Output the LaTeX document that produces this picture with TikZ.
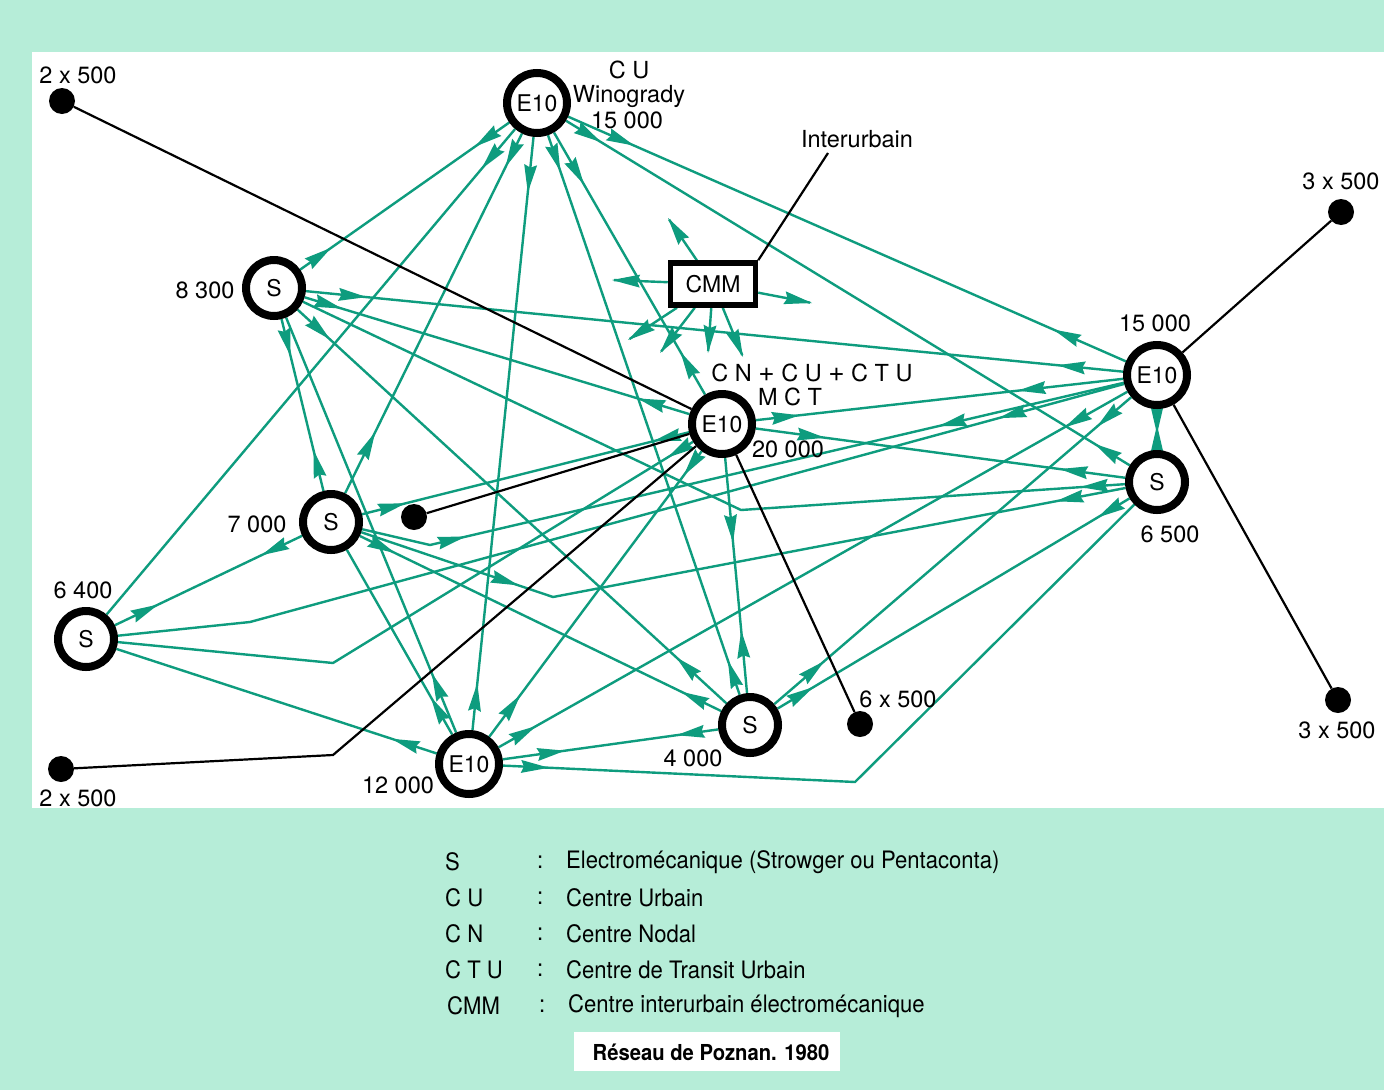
\documentclass[tikz,border=0pt]{standalone}
\usepackage{fontspec}
\setmainfont{TeX Gyre Heros}
\newfontfamily\legf[FakeStretch=0.92]{TeX Gyre Heros}
\usetikzlibrary{arrows.meta,decorations.markings}
\definecolor{grn}{RGB}{14,156,126}
\definecolor{mint}{RGB}{182,237,216}
\pgfdeclarelayer{back}\pgfdeclarelayer{bg}
\pgfsetlayers{back,bg,main}
\newcommand{\pl}{{\fontsize{28}{26}\selectfont +}}
\begin{document}
\begin{tikzpicture}[x=1pt,y=-1pt,
  e10/.style={circle,draw=black,line width=8pt,fill=white,minimum size=60pt,inner sep=0pt,font=\fontsize{23}{25}\selectfont},
  sx/.style={circle,draw=black,line width=8pt,fill=white,minimum size=56pt,inner sep=0pt,font=\fontsize{23}{25}\selectfont},
  dot/.style={circle,fill=black,minimum size=26pt,inner sep=0pt},
  lbl/.style={inner sep=0pt,font=\fontsize{23.5}{26}\selectfont},
  leg/.style={inner sep=0pt,anchor=west,font=\legf\fontsize{24}{26}\selectfont},
  gl/.style={draw=grn,line width=2.4pt},
  bl/.style={draw=black,line width=2.2pt},
  fa/.style={postaction={decorate,decoration={markings,mark=at position #1pt with {\fill[grn] (0pt,0pt) -- (-28pt,6.5pt) -- (-25pt,0pt) -- (-28pt,-6.5pt) -- cycle;}}}},
  ra/.style={postaction={decorate,decoration={markings,mark=at position -#1pt with {\fill[grn] (0pt,0pt) -- (28pt,6.5pt) -- (25pt,0pt) -- (28pt,-6.5pt) -- cycle;}}}},
  stub/.style={gl,shorten >=2pt,postaction={decorate,decoration={markings,mark=at position 1 with {\fill[grn] (0pt,0pt) -- (-28pt,6.5pt) -- (-25pt,0pt) -- (-28pt,-6.5pt) -- cycle;}}}},
]
\useasboundingbox (0,0) rectangle (1384,1090);
\begin{pgfonlayer}{back}
\fill[mint] (0,0) rectangle (1384,1090);
\fill[white] (32,52) rectangle (1384,808);
\fill[white] (574,1032) rectangle (840,1071);
\end{pgfonlayer}

% exchanges
\node[e10] (T) at (537,103) {E10};
\node[sx] (A) at (274,288) {S};
\node[sx] (B) at (331,522) {S};
\node[sx] (C) at (86,639) {S};
\node[e10] (M) at (722,424) {E10};
\node[e10] (R) at (1157,375) {E10};
\node[sx] (D) at (1157,482) {S};
\node[sx] (F) at (750,725) {S};
\node[e10] (G) at (469,764) {E10};
\node[draw=black,line width=5.5pt,fill=white,minimum width=85pt,minimum height=42pt,inner sep=0pt,font=\fontsize{23}{25}\selectfont] (CMM) at (713,284) {CMM};

% subscriber concentrators
\node[dot] (d1) at (62,101) {};
\node[dot] (d2) at (61,769) {};
\node[dot] (d3) at (414,517) {};
\node[dot] (d4) at (860,724) {};
\node[dot] (d5) at (1341,212) {};
\node[dot] (d6) at (1338,700) {};

% bend points
\coordinate (kAD) at (741,510);
\coordinate (kBR) at (430,545);
\coordinate (kBD) at (553,597);
\coordinate (kCM) at (333,663);
\coordinate (kCR) at (250,622);
\coordinate (kGD) at (855,782);
\coordinate (k2) at (333,755);
\coordinate (ki) at (828,153);
\coordinate (c1) at (668,218);
\coordinate (c2) at (612,280);
\coordinate (c3) at (812,303);
\coordinate (c4) at (628,340);
\coordinate (c5) at (660,353);
\coordinate (c6) at (708,353);
\coordinate (c7) at (743,357);

\begin{pgfonlayer}{bg}
% green links
\draw[gl,fa=42,ra=38] (T) -- (A);
\draw[gl,fa=52] (T) -- (C);
\draw[gl,fa=37,ra=68] (T) -- (B);
\draw[gl,fa=56,ra=47] (T) -- (G);
\draw[gl,fa=38,ra=36] (T) -- (F);
\draw[gl,fa=60,ra=49] (T) -- (M);
\draw[gl,fa=41,ra=41] (T) -- (D);
\draw[gl,fa=72,ra=79] (T) -- (R);
\draw[gl,fa=61,ra=66] (A) -- (R);
\draw[gl,fa=39,ra=54] (A) -- (M);
\draw[gl,ra=45] (A) -- (kAD) -- (D);
\draw[gl,fa=44,ra=68] (A) -- (F);
\draw[gl,ra=64] (A) -- (G);
\draw[gl,fa=38,ra=42] (A) -- (B);
\draw[gl,fa=45,ra=48] (B) -- (C);
\draw[gl,fa=45,ra=37] (B) -- (M);
\draw[gl,fa=106,ra=190] (B) -- (kBR) -- (R);
\draw[gl,fa=166,ra=71] (B) -- (kBD) -- (D);
\draw[gl,fa=39,ra=44] (B) -- (F);
\draw[gl,ra=43] (B) -- (G);
\draw[gl,ra=30] (C) -- (kCM) -- (M);
\draw[gl,ra=130] (C) -- (kCR) -- (R);
\draw[gl,ra=47] (C) -- (G);
\draw[gl,fa=30,ra=52] (M) -- (G);
\draw[gl,fa=85,ra=63] (M) -- (F);
\draw[gl,fa=44,ra=106] (M) -- (R);
\draw[gl,fa=70,ra=66] (M) -- (D);
\draw[gl,fa=72,ra=43] (R) -- (G);
\draw[gl,fa=45,ra=66] (R) -- (F);
\draw[gl,fa=25,ra=25] (R) -- (D);
\draw[gl,ra=46] (D) -- (kGD) -- (G);
\draw[gl,fa=37,ra=42] (D) -- (F);
\draw[gl,fa=42,ra=63] (F) -- (G);
% CMM stubs
\foreach \c in {c1,c2,c3,c4,c5,c6,c7}
  \draw[stub] (CMM) -- (\c);
% black links
\draw[bl] (d1) -- (M);
\draw[bl] (d2) -- (k2) -- (M);
\draw[bl] (d3) -- (M);
\draw[bl] (M) -- (d4);
\draw[bl] (R) -- (d5);
\draw[bl] (R) -- (d6);
\draw[bl] (CMM.north east) -- (ki);
\end{pgfonlayer}

% labels
\node[lbl] (l1) at (78,75) {2 x 500};
\node[lbl] (l2) at (629,70) {C U};
\node[lbl] (l3) at (629,96) {Winogrady};
\node[lbl] (l4) at (627,120) {15 000};
\node[lbl] (l5) at (857,139) {Interurbain};
\node[lbl] (l6) at (1341,181) {3 x 500};
\node[lbl] (l7) at (205,290) {8 300};
\node[lbl] (l8) at (1155,323) {15 000};
\node[lbl] (l9) at (812,373) {C N \pl{} C U \pl{} C T U};
\node[lbl] (l10) at (790,397) {M C T};
\node[lbl] (l11) at (788,449) {20 000};
\node[lbl] (l12) at (257,524) {7 000};
\node[lbl] (l13) at (1170,534) {6 500};
\node[lbl] (l14) at (83,590) {6 400};
\node[lbl] (l15) at (898,699) {6 x 500};
\node[lbl] (l16) at (1337,730) {3 x 500};
\node[lbl] (l17) at (693,758) {4 000};
\node[lbl] (l18) at (398,785) {12 000};
\node[lbl] (l19) at (78,798) {2 x 500};

% legend
\node[leg] (s1) at (445,862) {S};
\node[leg] (s2) at (445,898) {C U};
\node[leg] (s3) at (445,934) {C N};
\node[leg] (s4) at (445,970) {C T U};
\node[leg] (s5) at (447,1006) {CMM};
\foreach \y in {862,898,934,970} \node[leg] at (537,\y) {:};
\node[leg] (cl5) at (539,1006) {:};
\node[leg] (t1) at (566,862) {Electromécanique (Strowger ou Pentaconta)};
\node[leg] (t2) at (566,898) {Centre Urbain};
\node[leg] (t3) at (566,934) {Centre Nodal};
\node[leg] (t4) at (566,970) {Centre de Transit Urbain};
\node[leg] (t5) at (568,1006) {Centre interurbain électromécanique};
\node[inner sep=0pt,font=\legf\bfseries\fontsize{22}{24}\selectfont] (title) at (711,1052) {Réseau de Poznan. 1980};
\end{tikzpicture}
\end{document}
